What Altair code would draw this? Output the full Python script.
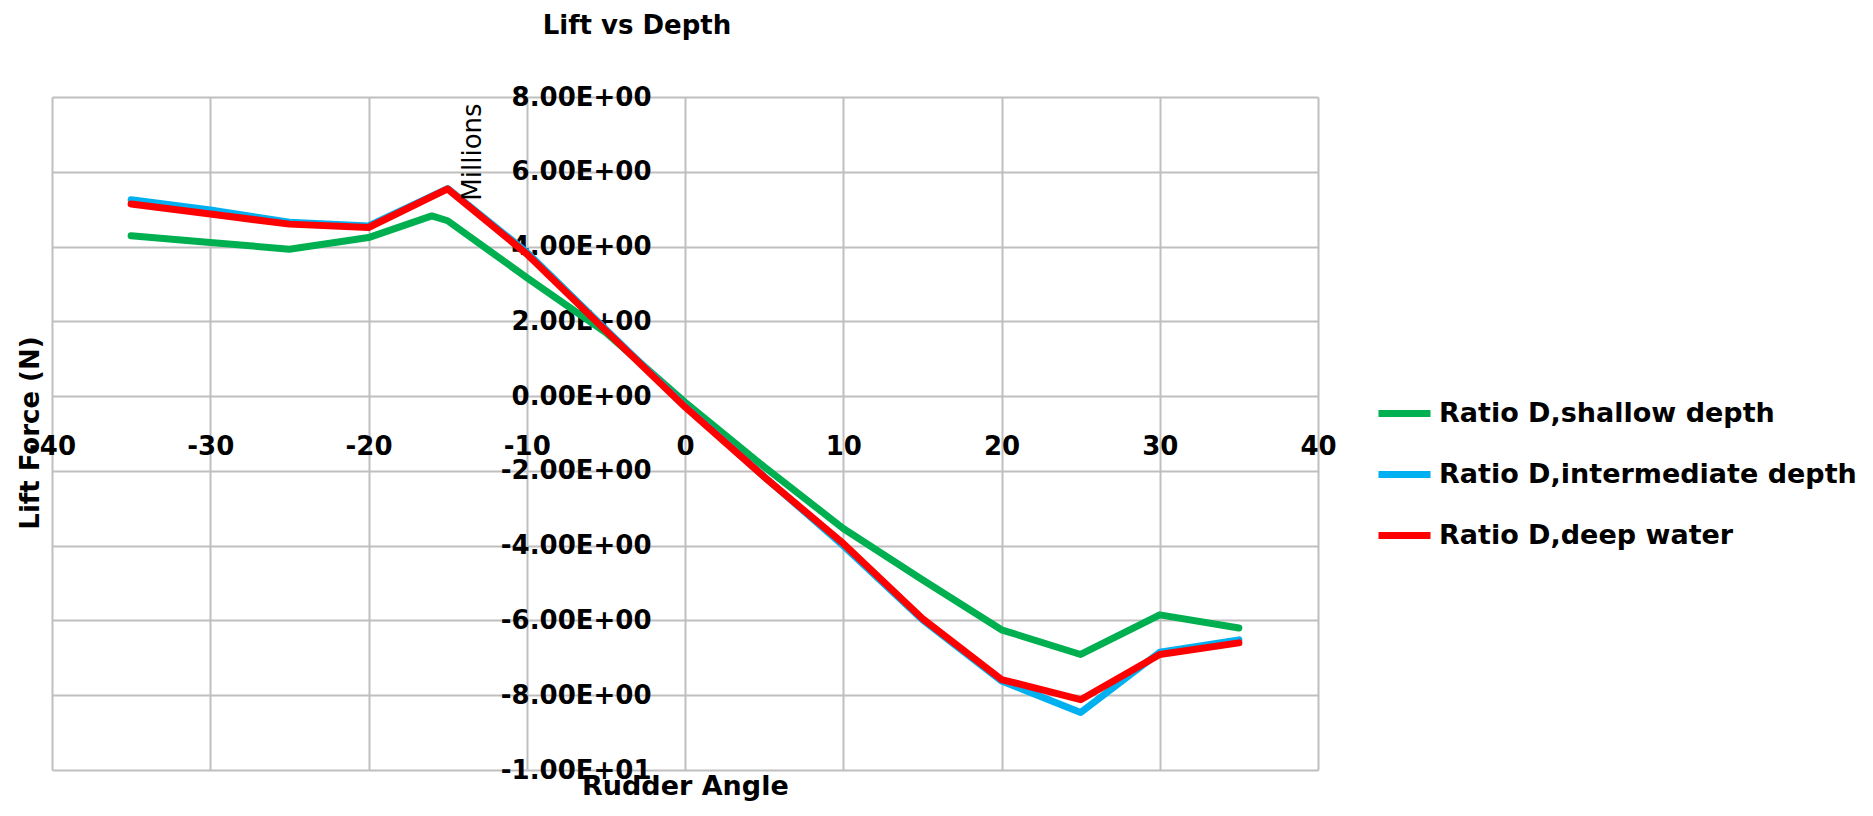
import altair as alt
import pandas as pd

# ---------------- data (values in millions of N) ----------------
angles = [-35, -30, -25, -20, -15, -10, -5, 0, 5, 10, 15, 20, 25, 30, 35]
shallow_angles = [-35, -30, -25, -20, -16, -15, -10, -5, 0, 5, 10, 15, 20, 25, 30, 35]
shallow = [4.29, 4.11, 3.93, 4.24, 4.82, 4.69, 3.17, 1.70, -0.16, -1.89, -3.54, -4.91, -6.25, -6.91, -5.85, -6.20]
intermediate = [5.25, 4.98, 4.65, 4.55, 5.55, 3.85, 1.78, -0.27, -2.15, -4.00, -5.98, -7.62, -8.46, -6.85, -6.52]
deep = [5.14, 4.87, 4.60, 4.51, 5.54, 3.80, 1.75, -0.29, -2.16, -3.94, -5.95, -7.58, -8.12, -6.91, -6.60]

series_names = ["Ratio D,shallow depth", "Ratio D,intermediate depth", "Ratio D,deep water"]
series_colors = ["#00B050", "#00B0F0", "#FF0000"]

x_ticks = [-40, -30, -20, -10, 0, 10, 20, 30, 40]
y_ticks = [-10, -8, -6, -4, -2, 0, 2, 4, 6, 8]
y_tick_labels = ["-1.00E+01", "-8.00E+00", "-6.00E+00", "-4.00E+00", "-2.00E+00",
                 "0.00E+00", "2.00E+00", "4.00E+00", "6.00E+00", "8.00E+00"]

chart_title = "Lift vs Depth"
x_title = "Rudder Angle"
y_title = "Lift Force (N)"
unit_label = "Millions"

# ---------------- table ----------------
rows = []
for a, v in zip(shallow_angles, shallow):
    rows.append({"angle": a, "lift": v, "series": series_names[0]})
for a, v in zip(angles, intermediate):
    rows.append({"angle": a, "lift": v, "series": series_names[1]})
for a, v in zip(angles, deep):
    rows.append({"angle": a, "lift": v, "series": series_names[2]})
df = pd.DataFrame(rows)

W, H = 1266, 673
FONT = "DejaVu Sans"
GRID = "#BFBFBF"

label_expr = " : ".join(
    f"datum.value == {t} ? '{l}'" for t, l in zip(y_ticks, y_tick_labels)
) + " : ''"

lines = alt.Chart(df).mark_line(strokeWidth=7, strokeCap="round", strokeJoin="round").encode(
    x=alt.X(
        "angle:Q",
        scale=alt.Scale(domain=[-40, 40], nice=False, zero=False),
        axis=alt.Axis(
            values=x_ticks, labelExpr="'' + datum.value", title=None, orient="bottom",
            offset=-(H * 10 / 18), grid=True, gridColor=GRID, gridWidth=2,
            domain=False, ticks=False, tickSize=0, labelPadding=37,
            labelFont=FONT, labelFontSize=26, labelFontWeight="bold", labelColor="black",
            labelFlush=False, labelOverlap=False,
        ),
    ),
    y=alt.Y(
        "lift:Q",
        scale=alt.Scale(domain=[-10, 8], nice=False, zero=False),
        axis=alt.Axis(
            values=y_ticks, labelExpr=label_expr, title=None, orient="left",
            offset=-(W / 2), grid=True, gridColor=GRID, gridWidth=2,
            domain=False, ticks=False, tickSize=0, labelPadding=34,
            labelFont=FONT, labelFontSize=26, labelFontWeight="bold", labelColor="black",
            labelFlush=False, labelOverlap=False,
        ),
    ),
    color=alt.Color(
        "series:N",
        scale=alt.Scale(domain=series_names, range=series_colors),
        sort=series_names,
        legend=alt.Legend(
            title=None, orient="none", legendX=1323, legendY=287,
            symbolType="stroke", symbolSize=2704, symbolStrokeWidth=7,
            labelFont=FONT, labelFontSize=27, labelFontWeight="bold", labelColor="black",
            labelOffset=5, rowPadding=17, labelLimit=0, padding=0,
        ),
    ),
)

def note(text, x, y, size, weight="bold", angle=0, align="center", baseline="alphabetic"):
    return alt.Chart(pd.DataFrame({"t": [text]})).mark_text(
        font=FONT, fontSize=size, fontWeight=weight, angle=angle,
        align=align, baseline=baseline, color="black",
    ).encode(text="t:N", x=alt.value(x), y=alt.value(y))

title_t = note(chart_title, 585, -63, 26)
xt = note(x_title, 530, 698, 27, align="left")
yt = note(y_title, -21, 336, 26, angle=270, baseline="middle")
ut = note(unit_label, 421, 55, 26, weight="normal", angle=270, baseline="middle")

chart = alt.layer(lines, title_t, xt, yt, ut).properties(
    width=W, height=H,
    autosize="none",
    padding={"left": 44, "top": 89, "right": 544, "bottom": 34},
).configure_view(strokeWidth=0)

chart.save("out.html", embed_options={"renderer": "svg", "actions": False})
